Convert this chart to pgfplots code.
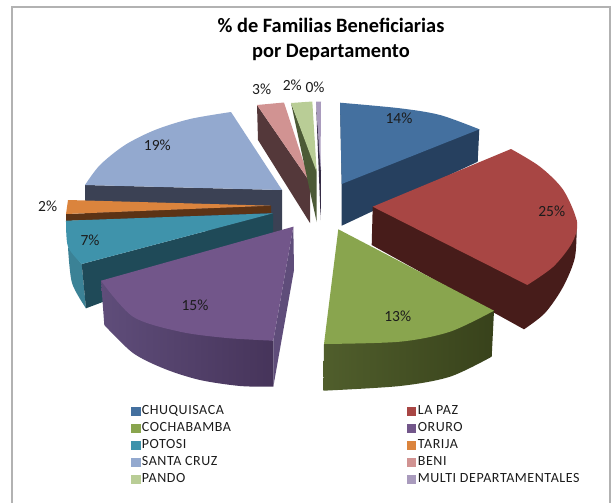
\documentclass[border=0pt]{standalone}
\usepackage{fontspec}
\setmainfont{Carlito}
\newfontfamily\lgfont[LetterSpace=4]{Carlito}
\usepackage{pgfplots}
\pgfplotsset{compat=1.18}
\definecolor{cBlue}{HTML}{44709F}\definecolor{cBlueS}{HTML}{26405F}
\definecolor{cRed}{HTML}{A84644}\definecolor{cRedS}{HTML}{471C1A}
\definecolor{cGreen}{HTML}{89A54E}\definecolor{cGreenL}{HTML}{505E2C}\definecolor{cGreenR}{HTML}{38421B}
\definecolor{cPur}{HTML}{72568A}\definecolor{cPurL}{HTML}{5F4D7A}\definecolor{cPurR}{HTML}{46345A}
\definecolor{cTeal}{HTML}{3F93AB}\definecolor{cTealS}{HTML}{1F4A58}\definecolor{cTealO}{HTML}{3B8296}
\definecolor{cOr}{HTML}{DB843D}\definecolor{cOrS}{HTML}{5C3315}
\definecolor{cLB}{HTML}{93A9CF}\definecolor{cLBS}{HTML}{3B4154}
\definecolor{cPink}{HTML}{D19392}\definecolor{cPinkS}{HTML}{54383A}
\definecolor{cPale}{HTML}{B9CD96}\definecolor{cPaleS}{HTML}{4C5A36}
\definecolor{cLil}{HTML}{A99BBD}\definecolor{cLilS}{HTML}{352C45}
\definecolor{cTxt}{HTML}{1C1C1C}
\pgfplotsset{sl/.style={fill=#1,draw=none,forget plot,mark=none},
  sh/.style 2 args={shade,left color=#1,right color=#2,draw=none,forget plot,mark=none}}
\tikzset{lb/.style={font=\fontsize{15.5}{17}\selectfont,text=cTxt}}
\begin{document}
\begin{tikzpicture}
\begin{axis}[
  width=613pt,height=503pt,scale only axis,
  xmin=0,xmax=613,ymin=0,ymax=503,y dir=reverse,
  hide axis,clip=true,
  legend style={at={(axis cs:131,403.5)},anchor=north west,draw=none,fill=none,
    font=\lgfont\fontsize{14}{15}\selectfont\color{cTxt},
    /tikz/every even column/.append style={column sep=174pt},
    row sep=2.4pt,inner sep=0pt,outer sep=0pt},
  legend columns=2,legend cell align=left,
  legend image code/.code={\fill[#1] (0pt,-4pt) rectangle (8.5pt,4pt);},
]
% page
\addplot[fill=white,draw=none,forget plot,mark=none] coordinates {(0,0)(613,0)(613,503)(0,503)} --cycle;
% frame
\addplot[draw=black!30,line width=2pt,forget plot,mark=none] coordinates {(12,503)(12,7)(610,7)(610,503)};
% Santa Cruz
\addplot[sl=cLBS] coordinates {(85,185)(85,222)(282,236)(282,190)} --cycle;
\addplot[sl=cLB,smooth] coordinates {(231,112)(190,119)(155,130)(125,145)(100,165)(85,185)} -- (axis cs:282,190) --cycle;
% Beni
\addplot[sl=cPinkS] coordinates {(257,105)(258,140)(310,223)(310,182)} --cycle;
\addplot[sl=cPink] coordinates {(257,105)(284,102.5)(310,182)} --cycle;
% Pando
\addplot[sl=cPaleS] coordinates {(291,103)(311,196)(316.7,222)(316.7,170)} --cycle;
\addplot[sl=cPale] coordinates {(291,103)(312.3,101.5)(316.7,172)} --cycle;
% Multi
\addplot[sl=cLilS] coordinates {(316,102)(320.7,220)(321,170)} --cycle;
\addplot[sl=cLil] coordinates {(316,101.5)(321,101.5)(320.5,170)} --cycle;
% Chuquisaca
\addplot[sl=cBlueS] coordinates {(340,103)(341.7,184)(341.7,225.7)(477.7,161.7)(479.3,129.3)} --cycle;
\addplot[sl=cBlue,smooth] coordinates {(340,102.7)(400,108.3)(440,115)(479.3,129.3)} -- (axis cs:341.7,184) --cycle;
% La Paz
\addplot[sl=cRedS,smooth] coordinates {(576.7,220)(575,257)(563,287)(545,313)(524,329.3)} -- (axis cs:371.7,245) -- (axis cs:372.7,206.7) --cycle;
\addplot[sl=cRed,smooth] coordinates {(511,149)(540,166.7)(563.3,190)(577,222)(572,243)(553.3,266.7)(527.3,285)} -- (axis cs:372.7,206.7) --cycle;
% Cochabamba
\addplot[sh={cGreenL}{cGreenR},smooth] coordinates {(323.3,390.7)(400,386)(450,376.7)(491.7,356.7)} -- (axis cs:494,310.7) -- (axis cs:324,344) --cycle;
\addplot[sl=cGreen,smooth] coordinates {(494,310.7)(450,331.7)(400,341.7)(324,344)} -- (axis cs:338.3,229.3) --cycle;
% Tarija
\addplot[sl=cOrS] coordinates {(66,214)(66,221)(271,213)(271,205.7)} --cycle;
\addplot[sl=cOr] coordinates {(68,200)(270.7,205.7)(66,214)} --cycle;
% Potosi
\addplot[sl=cTealO,smooth] coordinates {(68,247)(72,283)(86,308.3)} -- (axis cs:81.7,264) --cycle;
\addplot[sl=cTealS] coordinates {(81.7,264)(273,213.3)(273,238)(86,308.3)} --cycle;
\addplot[sl=cTeal,smooth] coordinates {(66,220.7)(68,246.7)(81.7,264)} -- (axis cs:273,213.3) --cycle;
% Oruro
\addplot[sl=cPurL] coordinates {(293.3,226.7)(294,270)(273.3,386.7)(273.3,340.7)} --cycle;
\addplot[sh={cPurL}{cPurR},smooth] coordinates {(104.3,325)(133,353)(165,369)(200,380)(240,386)(273.3,386.7)} -- (axis cs:273.3,340.7) -- (axis cs:101,280.7) --cycle;
\addplot[sl=cPur,smooth] coordinates {(101,280.7)(133,316.7)(180,331.7)(226.7,338)(273.3,340.7)} -- (axis cs:293.3,226.7) --cycle;
% legend
\addlegendimage{cBlue}\addlegendentry{CHUQUISACA}
\addlegendimage{cRed}\addlegendentry{LA PAZ}
\addlegendimage{cGreen}\addlegendentry{COCHABAMBA}
\addlegendimage{cPur}\addlegendentry{ORURO}
\addlegendimage{cTeal}\addlegendentry{POTOSI}
\addlegendimage{cOr}\addlegendentry{TARIJA}
\addlegendimage{cLB}\addlegendentry{SANTA CRUZ}
\addlegendimage{cPink}\addlegendentry{BENI}
\addlegendimage{cPale}\addlegendentry{PANDO}
\addlegendimage{cLil}\addlegendentry{MULTI DEPARTAMENTALES}
% labels
\node[lb] at (axis cs:399,118) {14\%};
\node[lb] at (axis cs:551.7,211.5) {25\%};
\node[lb] at (axis cs:397.7,316.5) {13\%};
\node[lb] at (axis cs:195,305.5) {15\%};
\node[lb] at (axis cs:90,240) {7\%};
\node[lb] at (axis cs:47.7,206.5) {2\%};
\node[lb] at (axis cs:157.3,145) {19\%};
\node[lb] at (axis cs:261.7,89) {3\%};
\node[lb] at (axis cs:292.3,85) {2\%};
\node[lb] at (axis cs:315,87.3) {0\%};
% title
\node[font=\bfseries\fontsize{20.4}{25}\selectfont,text=black,align=center] at (axis cs:331,39.5) {\% de Familias Beneficiarias\\por Departamento};
\end{axis}
\end{tikzpicture}
\end{document}
